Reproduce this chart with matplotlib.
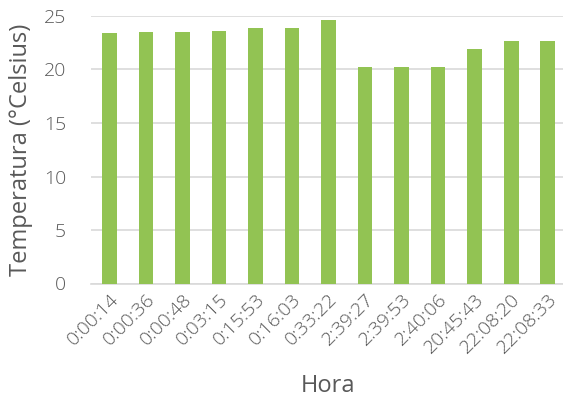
import matplotlib
matplotlib.use("Agg")
import matplotlib.pyplot as plt
import numpy as np

horas = ["0:00:14", "0:00:36", "0:00:48", "0:03:15", "0:15:53", "0:16:03", "0:33:22",
         "2:39:27", "2:39:53", "2:40:06", "20:45:43", "22:08:20", "22:08:33"]
temperatura = [23.4, 23.5, 23.5, 23.6, 23.9, 23.9, 24.6, 20.2, 20.2, 20.2, 21.9, 22.7, 22.7]
y_ticks = [0, 5, 10, 15, 20, 25]

plt.rcParams['font.family'] = ['Open Sans', 'DejaVu Sans']
plt.rcParams['font.weight'] = 'light'
text_color = "#595959"

fig = plt.figure(figsize=(5.63, 4.01), dpi=100)
ax = fig.add_axes([91 / 563, 1 - 283.5 / 401, 475 / 563, (283.5 - 16) / 401])

x = np.arange(len(horas))
ax.bar(x, temperatura, width=0.4, color="#92c353", zorder=3)

ax.set_xlim(-0.5, len(horas) - 0.5)
ax.set_ylim(0, 25)
ax.set_yticks(y_ticks)
ax.yaxis.grid(True, color="#d9d9d9", linewidth=1.2, zorder=0)
for s in ["top", "right", "left"]:
    ax.spines[s].set_visible(False)
ax.spines["bottom"].set_color("#d9d9d9")
ax.spines["bottom"].set_linewidth(1.2)
ax.tick_params(axis="both", length=0, colors=text_color)
ax.tick_params(axis="y", pad=18, labelsize=14)
ax.tick_params(axis="x", pad=5, labelsize=14)
ax.set_xticks(x)
ax.set_xticklabels(horas, rotation=45, ha="right", rotation_mode="anchor")

ax.set_xlabel("Hora", fontsize=17, color=text_color, labelpad=12)
ax.set_ylabel("Temperatura (°Celsius)", fontsize=17, color=text_color, labelpad=8)

fig.savefig("out.png", dpi=100)
